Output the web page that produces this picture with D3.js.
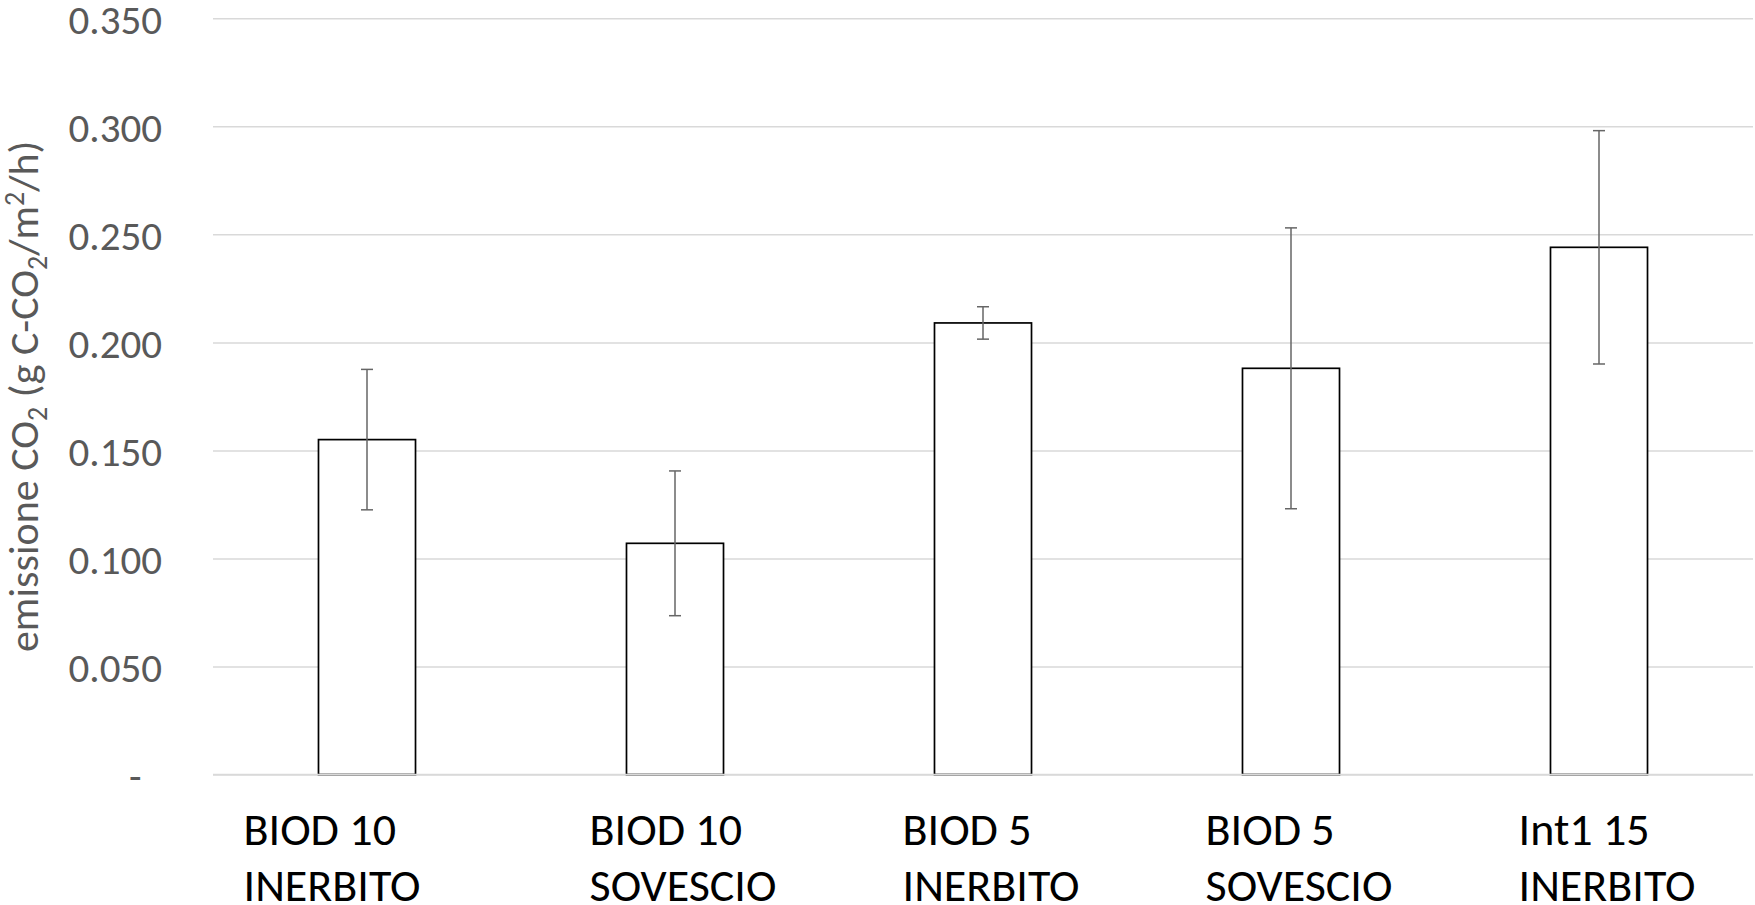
<!DOCTYPE html>
<html>
<head>
<meta charset="utf-8">
<script src="https://cdn.jsdelivr.net/npm/d3@7"></script>
<style>
  body { margin: 0; background: #fff; }
  text { font-family: Carlito, Lato, sans-serif; }
</style>
</head>
<body>
<div id="chart"></div>
<script>
// chart data
const categories = ["BIOD 10 INERBITO", "BIOD 10 SOVESCIO", "BIOD 5 INERBITO", "BIOD 5 SOVESCIO", "Int1 15 INERBITO"];
const labelTop = ["BIOD 10", "BIOD 10", "BIOD 5", "BIOD 5", "Int1 15"];
const labelBottom = ["INERBITO", "SOVESCIO", "INERBITO", "SOVESCIO", "INERBITO"];
const values = [0.155, 0.107, 0.209, 0.188, 0.244];
const errors = [0.0325, 0.0335, 0.0075, 0.065, 0.054];
const yTicks = [0, 0.05, 0.1, 0.15, 0.2, 0.25, 0.3, 0.35];

const W = 1755, H = 905;
const margin = {top: 18.3, left: 213, right: 2, bottom: 130.5};
const width = W - margin.left - margin.right;
const height = H - margin.top - margin.bottom;

const svg = d3.select("#chart").append("svg")
  .attr("width", W)
  .attr("height", H);

const g = svg.append("g")
  .attr("transform", "translate(" + margin.left + "," + margin.top + ")");

let yScale = d3.scaleLinear().domain([0, 0.35]).range([height, 0]);
let xScale = d3.scaleBand().domain(categories).range([0, width])
  .paddingInner(0.685).paddingOuter(0.3425);

// gridlines + tick labels
let yAxis = d3.axisLeft(yScale).tickValues(yTicks)
  .tickSize(-width)
  .tickPadding(51)
  .tickFormat(d => d === 0 ? "-\u2002" : d3.format(".3f")(d));

let yg = g.append("g").call(yAxis);
yg.select(".domain").remove();
yg.selectAll(".tick line").attr("stroke", "#d9d9d9").attr("stroke-width", 1.5);
yg.selectAll(".tick text")
  .attr("fill", "#595959")
  .style("font-size", "41px")
  .attr("dy", "0.36em");

// bars
g.append("g").selectAll("rect").data(values).enter().append("rect")
  .attr("x", (d, i) => xScale(categories[i]))
  .attr("y", d => yScale(d))
  .attr("width", xScale.bandwidth())
  .attr("height", d => height - yScale(d))
  .attr("fill", "#fff")
  .attr("stroke", "#000")
  .attr("stroke-width", 1.7);

// zero line on top of the bars
g.append("line")
  .attr("x1", 0).attr("x2", width)
  .attr("y1", yScale(0)).attr("y2", yScale(0))
  .attr("stroke", "#d9d9d9").attr("stroke-width", 1.5);

// error bars
let eb = g.append("g").selectAll("g").data(values).enter().append("g")
  .attr("stroke", "#666").attr("stroke-width", 1.5);
eb.append("line")
  .attr("x1", (d, i) => xScale(categories[i]) + xScale.bandwidth() / 2)
  .attr("x2", (d, i) => xScale(categories[i]) + xScale.bandwidth() / 2)
  .attr("y1", (d, i) => yScale(d + errors[i]))
  .attr("y2", (d, i) => yScale(d - errors[i]));
[1, -1].forEach(s => {
  eb.append("line")
    .attr("x1", (d, i) => xScale(categories[i]) + xScale.bandwidth() / 2 - 6)
    .attr("x2", (d, i) => xScale(categories[i]) + xScale.bandwidth() / 2 + 6)
    .attr("y1", (d, i) => yScale(d + s * errors[i]))
    .attr("y2", (d, i) => yScale(d + s * errors[i]));
});

// category labels, two lines, left aligned in a roughly centred block
categories.forEach((c, i) => {
  let cx = margin.left + xScale(c) + xScale.bandwidth() / 2;
  let lab = svg.append("g");
  let t1 = lab.append("text").attr("y", 845).text(labelTop[i]);
  let t2 = lab.append("text").attr("y", 901).text(labelBottom[i]);
  lab.selectAll("text").attr("fill", "#000").style("font-size", "46px");
  let w = Math.max(t1.node().getComputedTextLength(), t2.node().getComputedTextLength());
  // first label sits further left in the original
  let shift = i === 0 ? -35 : 8;
  lab.selectAll("text").attr("x", cx - w / 2 + shift);
});

// y axis title with sub/superscripts
let yt = svg.append("text")
  .attr("transform", "translate(38," + (margin.top + height / 2) + ") rotate(-90)")
  .attr("text-anchor", "middle")
  .attr("fill", "#595959")
  .style("font-size", "42px");
yt.append("tspan").text("emissione CO");
yt.append("tspan").text("2").style("font-size", "28px").attr("dy", 9);
yt.append("tspan").text(" (g C-CO").attr("dy", -9);
yt.append("tspan").text("2").style("font-size", "28px").attr("dy", 9);
yt.append("tspan").text("/m").attr("dy", -9);
yt.append("tspan").text("2").style("font-size", "28px").attr("dy", -14);
yt.append("tspan").text("/h)").attr("dy", 14);
</script>
</body>
</html>
